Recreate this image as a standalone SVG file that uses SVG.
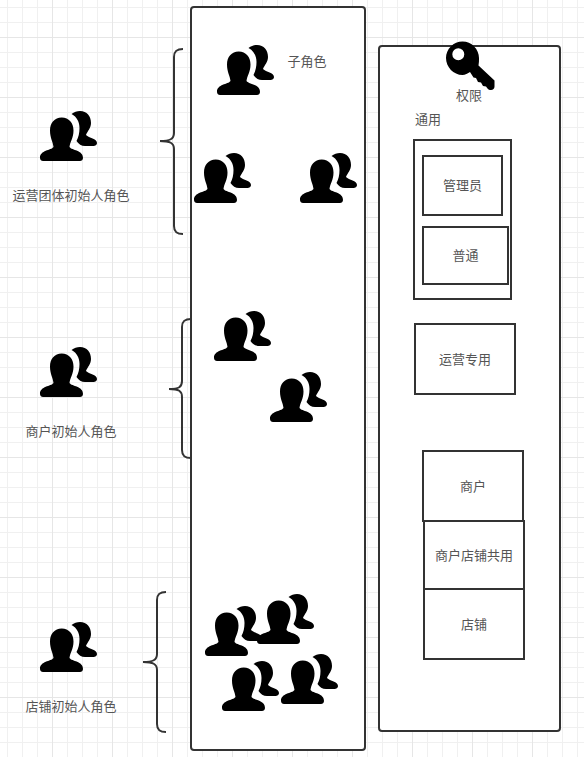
<svg xmlns="http://www.w3.org/2000/svg" width="584" height="757" viewBox="0 0 584 757">
<style>
.t{font-family:"Noto Sans CJK SC","Liberation Sans",sans-serif;font-size:13px;fill:#555;text-anchor:middle}
.b{fill:#fff;stroke:#333;stroke-width:2}
.br{fill:none;stroke:#333;stroke-width:2}
</style>
<defs>
<pattern id="g" width="15" height="15" patternUnits="userSpaceOnUse" x="7" y="7"><path d="M0.5 0V15M0 0.5H15" fill="none" stroke="#f0f0f0" stroke-width="1"/></pattern>
<pattern id="G" width="60" height="60" patternUnits="userSpaceOnUse" x="52" y="37"><path d="M0.5 0V60M0 0.5H60" fill="none" stroke="#e6e6e6" stroke-width="1"/></pattern>
<g id="p">
<path d="M31.500 3C34 1 37 0 40 0C47 0 51 5 51 12C51 17 47.500 20 46 24C49 27 57 27.500 57 32C57 34.500 54.500 35 52 35L45 35C41.500 35 38.500 33 36.500 30C38.500 26 39.500 22 39.500 17C39.500 11 37 6 31.500 3Z" fill="#000"/>
<path d="M21.700 6.500C29 6.500 33.500 12 33.500 19.500C33.500 27 30 31 29.500 36C32 39.500 43 39 43 47C43 49 41.500 50 40 50L3 50C1.500 50 0 49 0 47C0 39 11 39.500 13.500 36C13 31 10 27 10 19.500C10 12 14.500 6.500 21.700 6.500Z" fill="#000"/>
</g>
</defs>
<rect width="584" height="757" fill="#fff"/>
<rect width="584" height="757" fill="url(#g)"/>
<rect width="584" height="757" fill="url(#G)"/>
<g id="connectors">
<path class="br" d="M183 49C177 49 174 51 174 57L174 133C174 139 170 141 160 141C170 141 174 143 174 149L174 226C174 232 177 234 183 234"/>
<path class="br" d="M191 319C185 319 182 321 182 327L182 381C182 387 179 389 169 389C179 389 182 391 182 397L182 450C182 456 185 458 191 458"/>
<path class="br" d="M166 592C160 592 157 594 157 600L157 654C157 660 153 662 143 662C153 662 157 664 157 670L157 724C157 730 160 732 166 732"/>
</g>
<g id="roles-panel"><rect class="b" x="191" y="7" width="174" height="743" rx="3"/><text class="t" x="307" y="66">子角色</text></g>
<g id="perm-panel"><rect class="b" x="379" y="46" width="181" height="685" rx="3"/></g>
<g id="key"><path fill-rule="evenodd" d="M462.500 41.500C471.500 41.500 479 49 479 58C479 60.500 479 63 478.500 65.500L494.500 80.500L494.500 86.500C494.500 88.500 493 90 491 90C489.500 90 488.500 89.500 487.500 88.500L486 86.500L483 86L481 82.500L478 82L476 78L473.500 77.500L470 72C468 73.500 465 75 462.500 75C453.500 75 446 67 446 58C446 49 453.500 41.500 462.500 41.500ZM458.300 48.300A6 6 0 1 0 458.300 60.300A6 6 0 1 0 458.300 48.300Z" fill="#000"/></g>
<g id="icon-yy"><use href="#p" x="40" y="111"/><text class="t" x="71" y="200">运营团体初始人角色</text></g>
<g id="icon-sh"><use href="#p" x="40" y="347"/><text class="t" x="71" y="436">商户初始人角色</text></g>
<g id="icon-dp"><use href="#p" x="40" y="622"/><text class="t" x="71" y="711">店铺初始人角色</text></g>
<g id="sub1"><use href="#p" x="217" y="45"/></g>
<g id="sub2"><use href="#p" x="194" y="153"/></g>
<g id="sub3"><use href="#p" x="300" y="153"/></g>
<g id="sub4"><use href="#p" x="214" y="311"/></g>
<g id="sub5"><use href="#p" x="270" y="372"/></g>
<g id="sub6"><use href="#p" x="205" y="606"/></g>
<g id="sub7"><use href="#p" x="257" y="594"/></g>
<g id="sub8"><use href="#p" x="222" y="661"/></g>
<g id="sub9"><use href="#p" x="281" y="654"/></g>
<text class="t" x="469" y="100">权限</text>
<text class="t" x="428" y="124">通用</text>
<g id="common"><rect class="b" x="414" y="140" width="97" height="159"/></g>
<g id="admin"><rect class="b" x="423" y="156" width="79" height="59"/><text class="t" x="462.500" y="190">管理员</text></g>
<g id="normal"><rect class="b" x="423" y="227" width="85" height="57"/><text class="t" x="465.500" y="260">普通</text></g>
<g id="ops"><rect class="b" x="415" y="324" width="100" height="70"/><text class="t" x="465" y="364">运营专用</text></g>
<g id="merchant"><rect class="b" x="423" y="451" width="100" height="70"/><text class="t" x="473" y="491">商户</text></g>
<g id="shared"><rect class="b" x="424" y="521" width="100" height="68"/><text class="t" x="474" y="560">商户店铺共用</text></g>
<g id="store"><rect class="b" x="424" y="589" width="100" height="70"/><text class="t" x="474" y="629">店铺</text></g>
</svg>
